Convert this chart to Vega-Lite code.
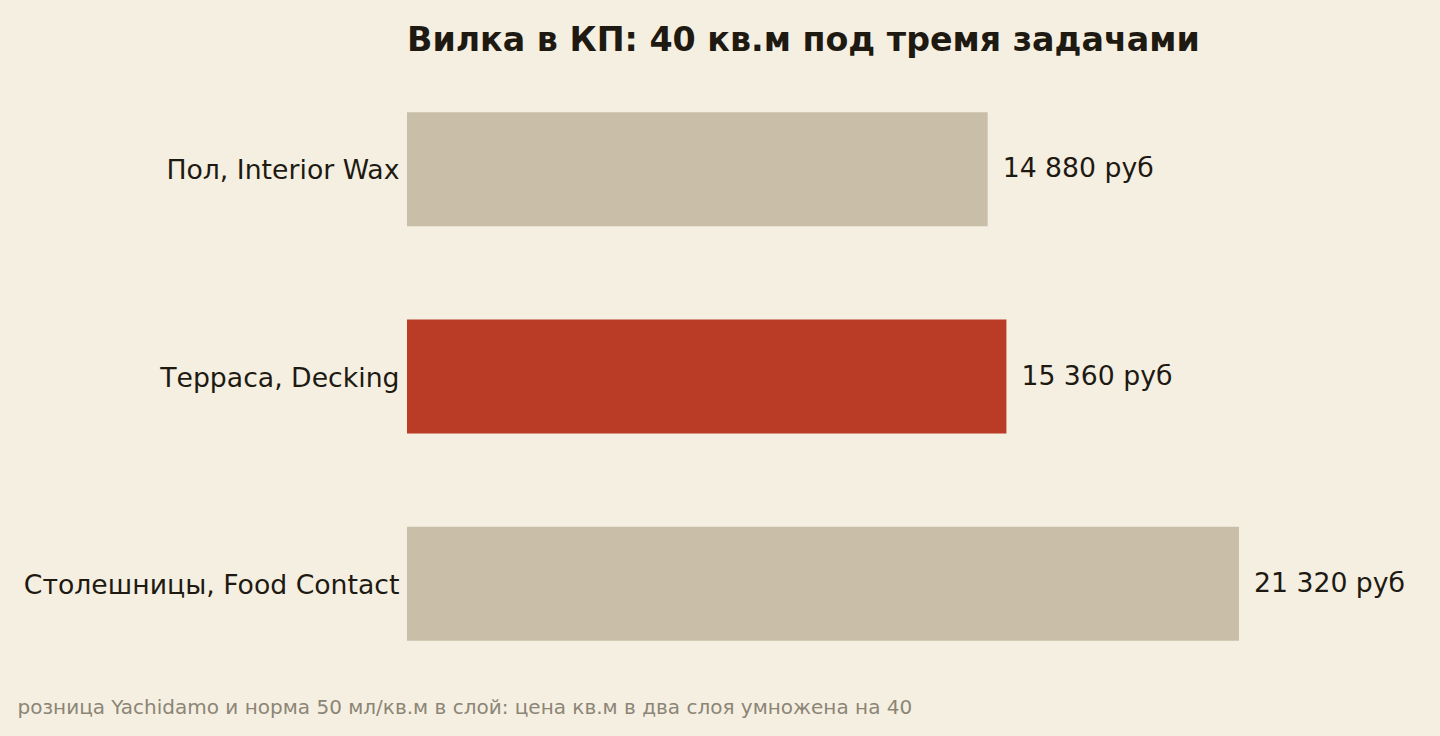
{
  "$schema": "https://vega.github.io/schema/vega-lite/v6.json",
  "autosize": {"type": "none"},
  "padding": {"left": 407, "top": 80, "right": 201, "bottom": 63},
  "width": 832,
  "height": 593,
  "background": "#f5efe2",
  "config": {"view": {"stroke": null}, "font": "DejaVu Sans"},
  "title": {
    "text": "Вилка в КП: 40 кв.м под тремя задачами",
    "anchor": "start",
    "frame": "group",
    "font": "DejaVu Sans",
    "fontSize": 33.3,
    "fontWeight": "bold",
    "color": "#1e1a12",
    "offset": 22
  },
  "data": {
    "values": [
      {"task": "Пол, Interior Wax", "value": 14880, "label": "14 880 руб", "hl": "no"},
      {"task": "Терраса, Decking", "value": 15360, "label": "15 360 руб", "hl": "yes"},
      {"task": "Столешницы, Food Contact", "value": 21320, "label": "21 320 руб", "hl": "no"}
    ]
  },
  "encoding": {
    "y": {
      "field": "task",
      "type": "nominal",
      "sort": null,
      "scale": {"paddingInner": 0.45, "paddingOuter": 0.155},
      "axis": {
        "title": null,
        "domain": false,
        "ticks": false,
        "labelFontSize": 26.7,
        "labelColor": "#1e1a12",
        "labelPadding": 8,
        "labelLimit": 500,
        "labelOffset": 2
      }
    },
    "x": {
      "field": "value",
      "type": "quantitative",
      "scale": {"domain": [0, 21320], "nice": false},
      "axis": {
        "domain": false,
        "ticks": false,
        "labels": false,
        "grid": false,
        "title": "розница Yachidamo и норма 50 мл/кв.м в слой: цена кв.м в два слоя умножена на 40",
        "titleAnchor": "start",
        "titleAlign": "left",
        "titleX": -390,
        "titleY": 34,
        "titleBaseline": "middle",
        "titleFontSize": 20,
        "titleFontWeight": "normal",
        "titleColor": "#8c8576"
      }
    }
  },
  "layer": [
    {
      "mark": {"type": "bar"},
      "encoding": {
        "color": {
          "field": "hl",
          "type": "nominal",
          "scale": {"domain": ["no", "yes"], "range": ["#c9bfa8", "#bb3c26"]},
          "legend": null
        }
      }
    },
    {
      "mark": {"type": "text", "align": "left", "dx": 15, "fontSize": 26.7, "color": "#1e1a12", "baseline": "middle"},
      "encoding": {"text": {"field": "label"}}
    }
  ]
}
